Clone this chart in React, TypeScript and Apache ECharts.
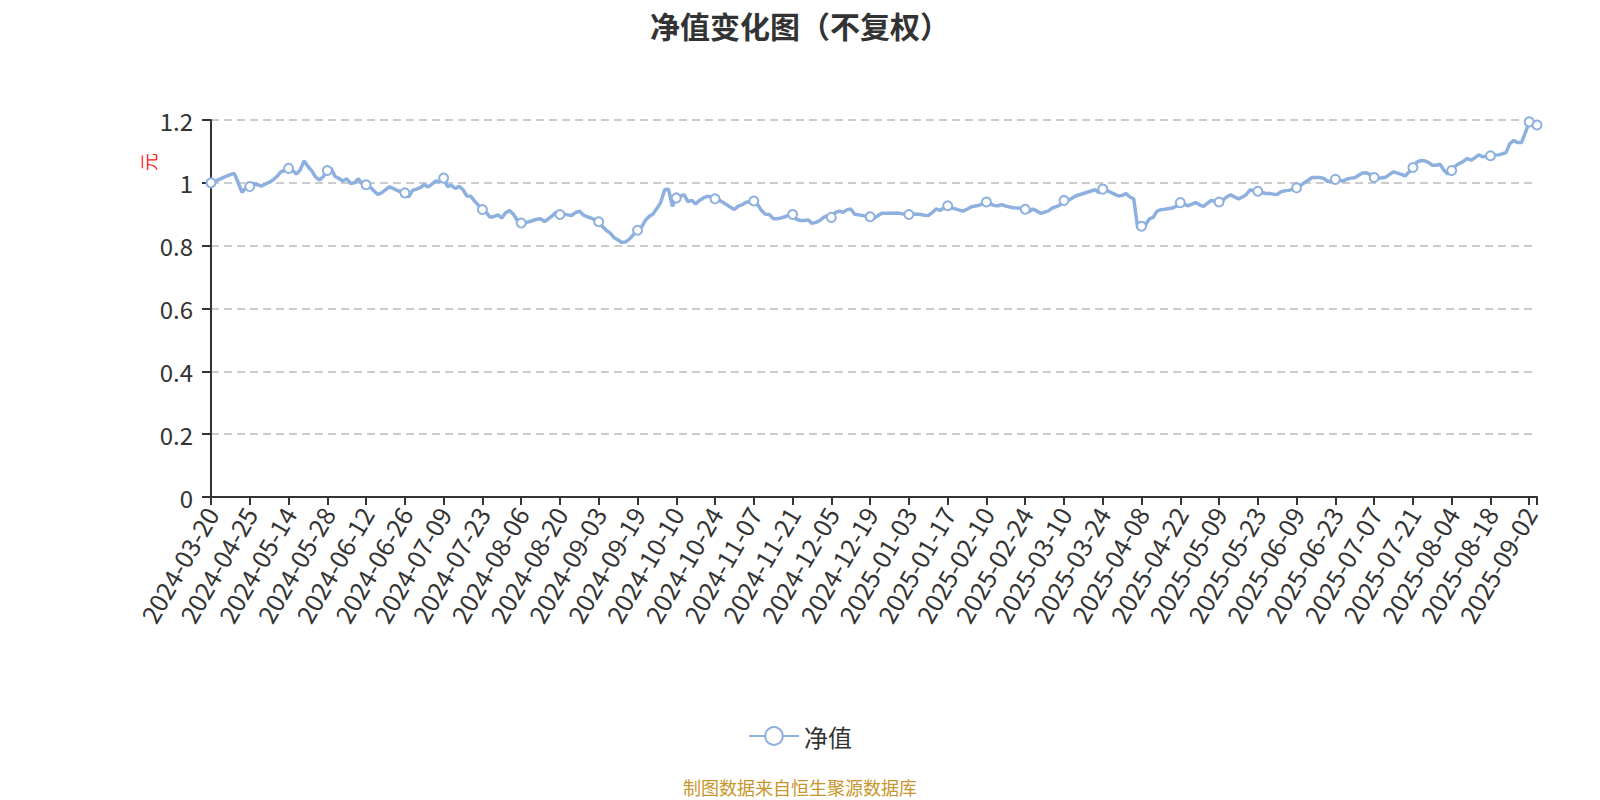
import React, { useEffect, useRef } from "react";
import * as echarts from "echarts";

const TITLE = "净值变化图（不复权）";
const SERIES_NAME = "净值";
const Y_NAME = "元";
const SOURCE = "制图数据来自恒生聚源数据库";

const dates: string[] = [
  "2024-03-20","2024-03-22","2024-03-29","2024-04-03","2024-04-12","2024-04-18","2024-04-19","2024-04-22","2024-04-23","2024-04-24",
  "2024-04-25","2024-04-26","2024-04-29","2024-04-30","2024-05-06","2024-05-07","2024-05-08","2024-05-09","2024-05-10","2024-05-13",
  "2024-05-14","2024-05-15","2024-05-16","2024-05-17","2024-05-20","2024-05-21","2024-05-22","2024-05-23","2024-05-24","2024-05-27",
  "2024-05-28","2024-05-29","2024-05-30","2024-05-31","2024-06-03","2024-06-04","2024-06-05","2024-06-06","2024-06-07","2024-06-11",
  "2024-06-12","2024-06-13","2024-06-14","2024-06-17","2024-06-18","2024-06-19","2024-06-20","2024-06-21","2024-06-24","2024-06-25",
  "2024-06-26","2024-06-27","2024-06-28","2024-06-30","2024-07-01","2024-07-02","2024-07-03","2024-07-04","2024-07-05","2024-07-08",
  "2024-07-09","2024-07-10","2024-07-11","2024-07-12","2024-07-15","2024-07-16","2024-07-17","2024-07-18","2024-07-19","2024-07-22",
  "2024-07-23","2024-07-24","2024-07-25","2024-07-26","2024-07-29","2024-07-30","2024-07-31","2024-08-01","2024-08-02","2024-08-05",
  "2024-08-06","2024-08-07","2024-08-08","2024-08-09","2024-08-12","2024-08-13","2024-08-14","2024-08-15","2024-08-16","2024-08-19",
  "2024-08-20","2024-08-21","2024-08-22","2024-08-23","2024-08-26","2024-08-27","2024-08-28","2024-08-29","2024-08-30","2024-09-02",
  "2024-09-03","2024-09-04","2024-09-05","2024-09-06","2024-09-09","2024-09-10","2024-09-11","2024-09-12","2024-09-13","2024-09-18",
  "2024-09-19","2024-09-20","2024-09-23","2024-09-24","2024-09-25","2024-09-26","2024-09-27","2024-09-30","2024-10-08","2024-10-09",
  "2024-10-10","2024-10-11","2024-10-14","2024-10-15","2024-10-16","2024-10-17","2024-10-18","2024-10-21","2024-10-22","2024-10-23",
  "2024-10-24","2024-10-25","2024-10-28","2024-10-29","2024-10-30","2024-10-31","2024-11-01","2024-11-04","2024-11-05","2024-11-06",
  "2024-11-07","2024-11-08","2024-11-11","2024-11-12","2024-11-13","2024-11-14","2024-11-15","2024-11-18","2024-11-19","2024-11-20",
  "2024-11-21","2024-11-22","2024-11-25","2024-11-26","2024-11-27","2024-11-28","2024-11-29","2024-12-02","2024-12-03","2024-12-04",
  "2024-12-05","2024-12-06","2024-12-09","2024-12-10","2024-12-11","2024-12-12","2024-12-13","2024-12-16","2024-12-17","2024-12-18",
  "2024-12-19","2024-12-20","2024-12-23","2024-12-24","2024-12-25","2024-12-26","2024-12-27","2024-12-30","2024-12-31","2025-01-02",
  "2025-01-03","2025-01-06","2025-01-07","2025-01-08","2025-01-09","2025-01-10","2025-01-13","2025-01-14","2025-01-15","2025-01-16",
  "2025-01-17","2025-01-20","2025-01-21","2025-01-22","2025-01-23","2025-01-24","2025-01-27","2025-02-05","2025-02-06","2025-02-07",
  "2025-02-10","2025-02-11","2025-02-12","2025-02-13","2025-02-14","2025-02-17","2025-02-18","2025-02-19","2025-02-20","2025-02-21",
  "2025-02-24","2025-02-25","2025-02-26","2025-02-27","2025-02-28","2025-03-03","2025-03-04","2025-03-05","2025-03-06","2025-03-07",
  "2025-03-10","2025-03-11","2025-03-12","2025-03-13","2025-03-14","2025-03-17","2025-03-18","2025-03-19","2025-03-20","2025-03-21",
  "2025-03-24","2025-03-25","2025-03-26","2025-03-27","2025-03-28","2025-03-31","2025-04-01","2025-04-02","2025-04-03","2025-04-07",
  "2025-04-08","2025-04-09","2025-04-10","2025-04-11","2025-04-14","2025-04-15","2025-04-16","2025-04-17","2025-04-18","2025-04-21",
  "2025-04-22","2025-04-23","2025-04-24","2025-04-25","2025-04-28","2025-04-29","2025-04-30","2025-05-06","2025-05-07","2025-05-08",
  "2025-05-09","2025-05-12","2025-05-13","2025-05-14","2025-05-15","2025-05-16","2025-05-19","2025-05-20","2025-05-21","2025-05-22",
  "2025-05-23","2025-05-26","2025-05-27","2025-05-28","2025-05-29","2025-05-30","2025-06-03","2025-06-04","2025-06-05","2025-06-06",
  "2025-06-09","2025-06-10","2025-06-11","2025-06-12","2025-06-13","2025-06-16","2025-06-17","2025-06-18","2025-06-19","2025-06-20",
  "2025-06-23","2025-06-24","2025-06-25","2025-06-26","2025-06-27","2025-06-30","2025-07-01","2025-07-02","2025-07-03","2025-07-04",
  "2025-07-07","2025-07-08","2025-07-09","2025-07-10","2025-07-11","2025-07-14","2025-07-15","2025-07-16","2025-07-17","2025-07-18",
  "2025-07-21","2025-07-22","2025-07-23","2025-07-24","2025-07-25","2025-07-28","2025-07-29","2025-07-30","2025-07-31","2025-08-01",
  "2025-08-04","2025-08-05","2025-08-06","2025-08-07","2025-08-08","2025-08-11","2025-08-12","2025-08-13","2025-08-14","2025-08-15",
  "2025-08-18","2025-08-19","2025-08-20","2025-08-21","2025-08-22","2025-08-25","2025-08-26","2025-08-27","2025-08-28","2025-09-01",
  "2025-09-02","2025-09-03","2025-09-04",
];

const nav: number[] = [
  1.000,1.005,1.010,1.016,1.021,1.026,1.030,1.001,0.970,0.984,
  0.988,0.998,0.994,0.990,0.996,1.002,1.009,1.020,1.035,1.040,
  1.046,1.040,1.028,1.041,1.070,1.052,1.038,1.018,1.009,1.020,
  1.039,1.046,1.020,1.014,1.006,1.013,0.998,1.000,1.013,0.996,
  0.994,0.987,0.975,0.963,0.968,0.978,0.987,0.982,0.976,0.971,
  0.968,0.955,0.976,0.980,0.985,0.994,0.987,0.996,1.006,1.003,
  1.015,0.988,0.992,0.982,0.989,0.978,0.958,0.957,0.942,0.928,
  0.915,0.906,0.890,0.893,0.898,0.888,0.905,0.912,0.900,0.880,
  0.872,0.873,0.876,0.880,0.884,0.886,0.877,0.885,0.895,0.906,
  0.899,0.900,0.898,0.896,0.905,0.910,0.898,0.892,0.888,0.882,
  0.876,0.860,0.848,0.840,0.825,0.818,0.810,0.812,0.822,0.836,
  0.849,0.858,0.880,0.893,0.901,0.918,0.938,0.978,0.980,0.925,
  0.952,0.957,0.963,0.940,0.944,0.933,0.944,0.952,0.957,0.955,
  0.949,0.945,0.938,0.930,0.922,0.915,0.926,0.930,0.938,0.940,
  0.942,0.930,0.912,0.900,0.899,0.886,0.886,0.888,0.892,0.897,
  0.899,0.884,0.880,0.880,0.882,0.871,0.874,0.880,0.890,0.896,
  0.890,0.905,0.910,0.906,0.914,0.917,0.900,0.898,0.896,0.894,
  0.892,0.888,0.895,0.903,0.903,0.903,0.903,0.904,0.902,0.900,
  0.899,0.900,0.901,0.899,0.897,0.896,0.905,0.917,0.912,0.920,
  0.927,0.920,0.917,0.913,0.910,0.916,0.923,0.926,0.928,0.933,
  0.939,0.933,0.928,0.927,0.931,0.926,0.923,0.921,0.920,0.919,
  0.916,0.908,0.917,0.910,0.903,0.907,0.911,0.920,0.924,0.930,
  0.944,0.944,0.950,0.958,0.962,0.966,0.970,0.974,0.978,0.969,
  0.980,0.976,0.970,0.964,0.958,0.960,0.966,0.955,0.949,0.856,
  0.862,0.866,0.885,0.890,0.910,0.915,0.916,0.918,0.920,0.926,
  0.937,0.932,0.927,0.932,0.937,0.930,0.925,0.935,0.944,0.941,
  0.939,0.945,0.955,0.962,0.955,0.949,0.955,0.962,0.978,0.974,
  0.973,0.970,0.966,0.966,0.964,0.963,0.972,0.975,0.976,0.980,
  0.984,0.992,1.000,1.008,1.017,1.017,1.017,1.014,1.004,1.006,
  1.011,1.008,1.006,1.012,1.015,1.016,1.024,1.031,1.032,1.026,
  1.017,1.014,1.016,1.018,1.027,1.035,1.031,1.027,1.022,1.035,
  1.049,1.066,1.071,1.070,1.065,1.056,1.056,1.059,1.040,1.028,
  1.039,1.054,1.062,1.068,1.078,1.072,1.080,1.089,1.083,1.085,
  1.086,1.088,1.089,1.092,1.096,1.125,1.135,1.128,1.128,1.160,
  1.194,1.190,1.184,
];

const LINE_COLOR = "#8eb0df";
const FONT = "'Noto Sans CJK SC', 'Noto Sans', sans-serif";
const LAST = dates.length - 1;

export default function App() {
  const ref = useRef<HTMLDivElement>(null);
  useEffect(() => {
    document.body.style.margin = "0";
    if (!ref.current) return;
    const chart = echarts.init(ref.current, null, { renderer: "svg" });
    chart.setOption({
      animation: false,
      textStyle: { fontFamily: FONT },
      title: {
        text: TITLE,
        left: "center",
        top: 5,
        textStyle: { fontSize: 30, fontWeight: "bold", color: "#333", fontFamily: FONT },
      },
      legend: {
        data: [SERIES_NAME],
        top: 719,
        left: "center",
        itemWidth: 50,
        itemHeight: 22,
        itemGap: 10,
        textStyle: { fontSize: 24, color: "#333", fontFamily: FONT },
      },
      grid: { left: 211, right: 63, top: 120, bottom: 303 },
      xAxis: {
        type: "category",
        data: dates,
        boundaryGap: false,
        axisLine: { lineStyle: { color: "#333", width: 2 } },
        axisTick: { length: 8, lineStyle: { color: "#333", width: 2 } },
        axisLabel: {
          interval: (i: number) => i % 10 === 0 || i === LAST,
          formatter: (v: string, i: number) => (i === LAST ? "" : v),
          rotate: 60,
          fontSize: 25,
          color: "#333",
          margin: 12,
          fontFamily: FONT,
        },
        splitLine: { show: false },
      },
      yAxis: {
        type: "value",
        min: 0,
        max: 1.2,
        interval: 0.2,
        axisLine: { show: true, lineStyle: { color: "#333", width: 2 } },
        axisTick: { show: true, length: 9, lineStyle: { color: "#333", width: 2 } },
        axisLabel: { fontSize: 24, color: "#333", margin: 18, fontFamily: FONT },
        splitLine: { lineStyle: { type: [8, 5], color: "#ccc", width: 2 } },
      },
      graphic: [
        {
          type: "text",
          x: 139,
          y: 171,
          rotation: Math.PI / 2,
          style: { text: Y_NAME, fontSize: 18, fill: "#f22", fontFamily: FONT },
        },
        {
          type: "text",
          left: "center",
          top: 778,
          style: { text: SOURCE, fontSize: 18, fill: "#c8952b", fontFamily: FONT },
        },
      ],
      series: [
        {
          name: SERIES_NAME,
          type: "line",
          data: nav,
          symbol: "emptyCircle",
          symbolSize: 9,
          showAllSymbol: "auto",
          itemStyle: { color: LINE_COLOR, borderWidth: 2 },
          lineStyle: { color: LINE_COLOR, width: 3.5 },
        },
      ],
    });
    return () => chart.dispose();
  }, []);
  return <div ref={ref} style={{ width: 1600, height: 800 }} />;
}
